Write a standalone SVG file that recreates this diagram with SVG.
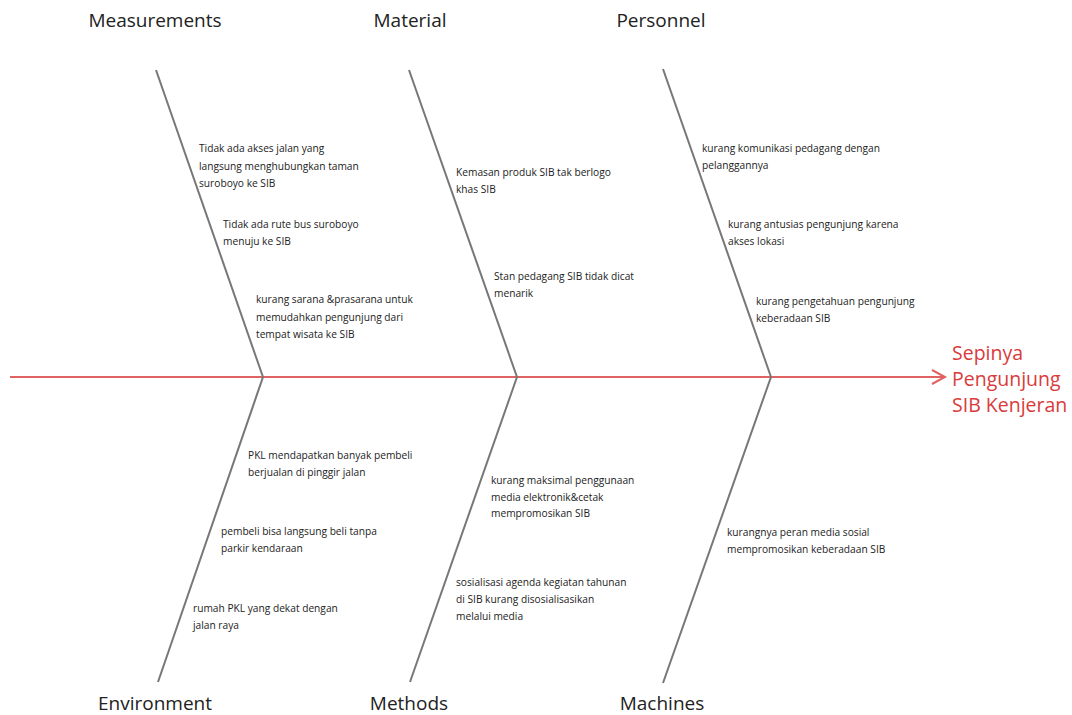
<svg xmlns="http://www.w3.org/2000/svg" width="1072" height="715" viewBox="0 0 1072 715">
<style>
.cat{font-family:"Open Sans","Noto Sans",sans-serif;font-size:19px;fill:#222;text-anchor:middle}
.cause{font-family:"Open Sans","Noto Sans",sans-serif;font-size:10.2px;fill:#222}
.bone{stroke:#777;stroke-width:2;fill:none}
.spine{stroke:#e06262;stroke-width:2;fill:none}
.effect{font-family:"Open Sans","Noto Sans",sans-serif;font-size:19.5px;fill:#d93b3b}
</style>
<rect width="1072" height="715" fill="#fff"/>
<g id="connectors">
<line class="spine" x1="10" y1="377" x2="944" y2="377"/>
<polyline class="spine" points="932,370 945,377 932,384"/>
<line class="bone" x1="156" y1="70" x2="263" y2="377"/>
<line class="bone" x1="409" y1="70" x2="517" y2="377"/>
<line class="bone" x1="663" y1="69" x2="771" y2="377"/>
<line class="bone" x1="263" y1="377" x2="158" y2="682"/>
<line class="bone" x1="517" y1="377" x2="410" y2="682"/>
<line class="bone" x1="771" y1="377" x2="663" y2="683"/>
</g>
<g id="effect">
<text class="effect" x="952" y="360">Sepinya</text>
<text class="effect" x="952" y="386">Pengunjung</text>
<text class="effect" x="952" y="412">SIB Kenjeran</text>
</g>
<g id="measurements">
<text class="cat" x="155" y="27">Measurements</text>
<text class="cause" x="199" y="152">Tidak ada akses jalan yang</text>
<text class="cause" x="199" y="170">langsung menghubungkan taman</text>
<text class="cause" x="199" y="187">suroboyo ke SIB</text>
<text class="cause" x="223" y="228">Tidak ada rute bus suroboyo</text>
<text class="cause" x="223" y="245">menuju ke SIB</text>
<text class="cause" x="256" y="303">kurang sarana &amp;prasarana untuk</text>
<text class="cause" x="256" y="321">memudahkan pengunjung dari</text>
<text class="cause" x="256" y="338">tempat wisata ke SIB</text>
</g>
<g id="material">
<text class="cat" x="410" y="27">Material</text>
<text class="cause" x="456" y="176">Kemasan produk SIB tak berlogo</text>
<text class="cause" x="456" y="193">khas SIB</text>
<text class="cause" x="494" y="280">Stan pedagang SIB tidak dicat</text>
<text class="cause" x="494" y="297">menarik</text>
</g>
<g id="personnel">
<text class="cat" x="661" y="27">Personnel</text>
<text class="cause" x="702" y="152">kurang komunikasi pedagang dengan</text>
<text class="cause" x="702" y="169">pelanggannya</text>
<text class="cause" x="728" y="228">kurang antusias pengunjung karena</text>
<text class="cause" x="728" y="245">akses lokasi</text>
<text class="cause" x="756" y="305">kurang pengetahuan pengunjung</text>
<text class="cause" x="756" y="322">keberadaan SIB</text>
</g>
<g id="environment">
<text class="cat" x="155" y="710">Environment</text>
<text class="cause" x="248" y="459">PKL mendapatkan banyak pembeli</text>
<text class="cause" x="248" y="476">berjualan di pinggir jalan</text>
<text class="cause" x="221" y="535">pembeli bisa langsung beli tanpa</text>
<text class="cause" x="221" y="552">parkir kendaraan</text>
<text class="cause" x="193" y="612">rumah PKL yang dekat dengan</text>
<text class="cause" x="193" y="629">jalan raya</text>
</g>
<g id="methods">
<text class="cat" x="409" y="710">Methods</text>
<text class="cause" x="491" y="484">kurang maksimal penggunaan</text>
<text class="cause" x="491" y="501">media elektronik&amp;cetak</text>
<text class="cause" x="491" y="517">mempromosikan SIB</text>
<text class="cause" x="456" y="586">sosialisasi agenda kegiatan tahunan</text>
<text class="cause" x="456" y="603">di SIB kurang disosialisasikan</text>
<text class="cause" x="456" y="620">melalui media</text>
</g>
<g id="machines">
<text class="cat" x="662" y="710">Machines</text>
<text class="cause" x="727" y="536">kurangnya peran media sosial</text>
<text class="cause" x="727" y="553">mempromosikan keberadaan SIB</text>
</g>
</svg>
